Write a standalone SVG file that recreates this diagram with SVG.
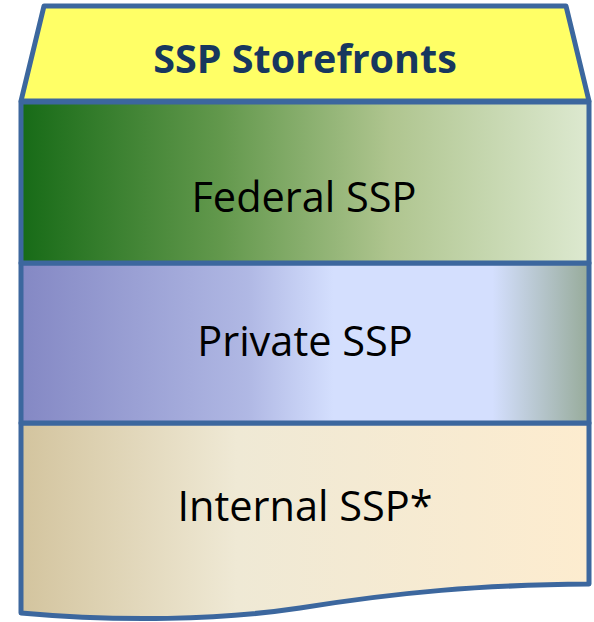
<svg xmlns="http://www.w3.org/2000/svg" width="594" height="622" viewBox="0 0 594 622">
<defs>
<linearGradient id="gFed" x1="0" y1="0" x2="1" y2="0">
<stop offset="0" stop-color="#176b17"/>
<stop offset="0.35" stop-color="#62984c"/>
<stop offset="0.65" stop-color="#afc58f"/>
<stop offset="1" stop-color="#dde9d0"/>
</linearGradient>
<linearGradient id="gPriv" x1="0" y1="0" x2="1" y2="0">
<stop offset="0" stop-color="#8488c4"/>
<stop offset="0.4" stop-color="#b0b8e4"/>
<stop offset="0.55" stop-color="#d4dffe"/>
<stop offset="0.83" stop-color="#d4dffe"/>
<stop offset="1" stop-color="#97ab9a"/>
</linearGradient>
<linearGradient id="gInt" x1="0" y1="0" x2="1" y2="0">
<stop offset="0" stop-color="#d3c49e"/>
<stop offset="0.38" stop-color="#efe9d5"/>
<stop offset="1" stop-color="#fdeccf"/>
</linearGradient>
<style>
.layer{stroke:#3c679e;stroke-width:5;stroke-linejoin:round}
.lbl{font-family:"Open Sans","Noto Sans",sans-serif;font-size:41.5px;fill:#000;text-anchor:middle}
.hdr{font-family:"Open Sans","Noto Sans",sans-serif;font-size:39.5px;font-weight:bold;fill:#17375e;text-anchor:middle}
</style>
</defs>
<g id="internal">
<path class="layer" fill="url(#gInt)" d="M21,423 H589 V584 C480,585 400,592 300,608 C220,620 120,622 21,613 Z"/>
<text class="lbl" x="305" y="521">Internal SSP*</text>
</g>
<g id="private">
<rect class="layer" x="21" y="263" width="568" height="160" fill="url(#gPriv)"/>
<text class="lbl" x="305" y="356">Private SSP</text>
</g>
<g id="federal">
<rect class="layer" x="21" y="102" width="568" height="161" fill="url(#gFed)"/>
<text class="lbl" x="304" y="212">Federal SSP</text>
</g>
<g id="header">
<path class="layer" fill="#ffff66" d="M44,6 H566 L589,101 H21 Z"/>
<text class="hdr" x="305" y="73">SSP Storefronts</text>
</g>
<g id="connectors"/>
</svg>
